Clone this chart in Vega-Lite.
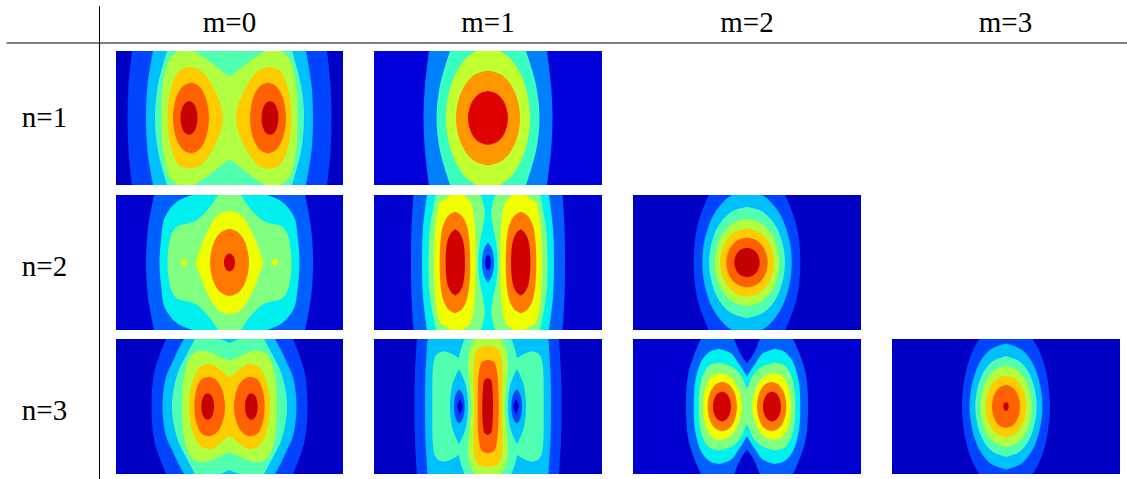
{"$schema":"https://vega.github.io/schema/vega-lite/v6.json","width":1127,"height":479,"padding":0,"autosize":{"type":"none"},"background":"white","view":{"stroke":null},
"layer":[
{"data":{"values":[
{"g":1,"c":"a0","y":[51,185],"a":[116,116],"b":[343,343]},
{"g":2,"c":"a1","y":[51,85,118,151,185],"a":[132,128.5,127.5,128.5,132],"b":[327,330.5,331.5,330.5,327]},
{"g":3,"c":"a2","y":[51,85,118,151,185],"a":[153,147.5,146,147.5,153],"b":[306,311.5,313,311.5,306]},
{"g":4,"c":"a3","y":[51,85,118,151,185],"a":[167,158,155,158,167],"b":[292,301,304,301,292]},
{"g":5,"c":"a4","y":[51,60,85,118,151,176,185],"a":[178,169,163,161.5,163,169,178],"b":[281,290,296,297.5,296,290,281]},
{"g":6,"c":"a3","y":[51,58,68,75,77],"a":[194,205,218,227,229.5],"b":[265,254,241,232,229.5]},
{"g":7,"c":"a3","y":[159,161,168,178,185],"a":[229.5,227,218,205,194],"b":[229.5,232,241,254,265]},
{"g":8,"c":"a5","y":[66.7,70,85,118,151,166,168.7],"a":[190,180,172,167.5,172,180,190],"b":[190,200,212,223,212,200,190]},
{"g":9,"c":"a5","y":[66.7,70,85,118,151,166,168.7],"a":[269,259,247,236,247,259,269],"b":[269,279,287,291.5,287,279,269]},
{"g":10,"c":"a6","y":[82.5,86,96.7,118,139.3,150,153.5],"a":[191,183.2,176.6,173,176.6,183.2,191],"b":[191,198.8,205.4,209,205.4,198.8,191]},
{"g":11,"c":"a6","y":[82.5,86,96.7,118,139.3,150,153.5],"a":[268,260.2,253.6,250,253.6,260.2,268],"b":[268,275.8,282.4,286,282.4,275.8,268]},
{"g":12,"c":"a7","y":[101,102.7,107.8,118,128.2,133.3,135],"a":[189,185.3,182.2,180.5,182.2,185.3,189],"b":[189,192.7,195.8,197.5,195.8,192.7,189]},
{"g":13,"c":"a7","y":[101,102.7,107.8,118,128.2,133.3,135],"a":[270,266.3,263.2,261.5,263.2,266.3,270],"b":[270,273.7,276.8,278.5,276.8,273.7,270]},
{"g":14,"c":"c0","y":[51,185],"a":[374,374],"b":[602,602]},
{"g":15,"c":"c1","y":[51,85,118,151,185],"a":[429,425,423.5,425,429],"b":[547,551,552.5,551,547]},
{"g":16,"c":"c2","y":[51,85,118,151,185],"a":[450,440,436.5,440,450],"b":[526,536,539.5,536,526]},
{"g":17,"c":"c3","y":[51,58,75,97,118,139,161,178,185],"a":[476,466.4,455,448,446,448,455,466.4,476],"b":[500,509.6,521,528,530,528,521,509.6,500]},
{"g":18,"c":"c4","y":[70.5,75.3,89.5,118,146.5,160.7,165.5],"a":[488,474,462.4,456,462.4,474,488],"b":[488,502,513.6,520,513.6,502,488]},
{"g":19,"c":"c5","y":[91,93.7,101.8,118,134.2,142.3,145],"a":[488,479.3,472,468,472,479.3,488],"b":[488,496.7,504,508,504,496.7,488]},
{"g":20,"c":"b0","y":[195,330],"a":[116,116],"b":[343,343]},
{"g":21,"c":"b1","y":[195,228,262.5,297,330],"a":[154,148,146,148,154],"b":[305,311,313,311,305]},
{"g":22,"c":"b2","y":[195,201.7,216.7,240,262.5,285,308.3,323.3,330],"a":[192,177,165,161,159.5,161,165,177,192],"b":[267,282,294,298,299.5,298,294,282,267]},
{"g":23,"c":"b3","y":[195,207,220,223.5,226,233,262.5,292,299,301.5,305,318,330],"a":[218,210,197,188,178,172,167.5,172,178,188,197,210,218],"b":[241,249,262,271,281,287,291.5,287,281,271,262,249,241]},
{"g":24,"c":"b4","y":[211,212.5,216.7,233.3,250,262.5,275,291.7,308.3,312.5,314],"a":[229.5,222.5,216.5,206.5,200,196,200,206.5,216.5,222.5,229.5],"b":[229.5,236.5,242.5,252.5,259,263,259,252.5,242.5,236.5,229.5]},
{"g":25,"c":"b4","y":[258.5,259.3,261,262.5,264,265.7,266.5],"a":[184.3,183,181.9,181.3,181.9,183,184.3],"b":[184.3,185.6,186.7,187.3,186.7,185.6,184.3]},
{"g":26,"c":"b4","y":[258.5,259.3,261,262.5,264,265.7,266.5],"a":[275,273.7,272.6,272,272.6,273.7,275],"b":[275,276.3,277.4,278,277.4,276.3,275]},
{"g":27,"c":"b5","y":[228.8,232.2,242.3,262.5,282.7,292.8,296.2],"a":[229.5,221,213.9,210,213.9,221,229.5],"b":[229.5,238,245.1,249,245.1,238,229.5]},
{"g":28,"c":"b6","y":[253.5,254.4,257.1,262.5,267.9,270.6,271.5],"a":[229.5,227.1,225.1,224,225.1,227.1,229.5],"b":[229.5,231.9,233.9,235,233.9,231.9,229.5]},
{"g":29,"c":"b0","y":[195,330],"a":[374,374],"b":[602,602]},
{"g":30,"c":"b1","y":[195,228,262.5,297,330],"a":[413.5,411.5,411,411.5,413.5],"b":[562.5,564.5,565,564.5,562.5]},
{"g":31,"c":"b2","y":[195,228,262.5,297,330],"a":[427,423,422,423,427],"b":[549,553,554,553,549]},
{"g":32,"c":"b3","y":[195,228,262.5,297,330],"a":[436,430,428.5,430,436],"b":[540,546,547.5,546,540]},
{"g":33,"c":"b2","y":[195,203.3,213.3,226.7,243.3,262.5,281.7,298.3,311.7,321.7,330],"a":[480.7,483.3,484.7,483,479.7,478.3,479.7,483,484.7,483.3,480.7],"b":[495.3,492.7,491.3,493,496.3,497.7,496.3,493,491.3,492.7,495.3]},
{"g":34,"c":"b1","y":[242.5,246,252,262.5,273,279,282.5],"a":[488,485.5,483.2,482,483.2,485.5,488],"b":[488,490.5,492.8,494,492.8,490.5,488]},
{"g":35,"c":"b0","y":[255,255.8,258,262.5,267,269.2,270],"a":[488,486.7,485.6,485,485.6,486.7,488],"b":[488,489.3,490.4,491,490.4,489.3,488]},
{"g":36,"c":"b4","y":[195,198,203,223,262.5,302,322,327,330],"a":[452,446,440,436,434,436,440,446,452],"b":[463,467,471,474.5,475.5,474.5,471,467,463]},
{"g":37,"c":"b4","y":[195,198,203,223,262.5,302,322,327,330],"a":[513,509,505,501.5,500.5,501.5,505,509,513],"b":[524,530,536,540,542,540,536,530,524]},
{"g":38,"c":"b5","y":[211.7,215,226,262.5,299,310,313.3],"a":[455,449,443,439.7,443,449,455],"b":[455,461,467,470.3,467,461,455]},
{"g":39,"c":"b5","y":[211.7,215,226,262.5,299,310,313.3],"a":[521,515,509,505.7,509,515,521],"b":[521,527,533,536.3,533,527,521]},
{"g":40,"c":"b6","y":[229.3,233,241,262.5,284,292,295.7],"a":[455.3,451,447.5,445.6,447.5,451,455.3],"b":[455.3,459.6,463.1,465,463.1,459.6,455.3]},
{"g":41,"c":"b6","y":[229.3,233,241,262.5,284,292,295.7],"a":[520.7,516.4,512.9,511,512.9,516.4,520.7],"b":[520.7,525,528.5,530.4,528.5,525,520.7]},
{"g":42,"c":"a0","y":[195,330],"a":[633,633],"b":[861,861]},
{"g":43,"c":"a1","y":[195,220,240,262.5,285,305,330],"a":[708.7,699,695,693.7,695,699,708.7],"b":[785.3,795,799,800.3,799,795,785.3]},
{"g":44,"c":"a2","y":[195,200,215,240,262.5,285,310,325,330],"a":[732,725.1,713.5,704.6,702.3,704.6,713.5,725.1,732],"b":[762,768.9,780.5,789.4,791.7,789.4,780.5,768.9,762]},
{"g":45,"c":"a3","y":[206.8,212.4,229.1,262.5,295.9,312.6,318.2],"a":[747,730.4,716.6,709,716.6,730.4,747],"b":[747,763.6,777.4,785,777.4,763.6,747]},
{"g":46,"c":"a4","y":[218.8,223.2,236.3,262.5,288.7,301.8,306.2],"a":[747,732.9,721.2,714.7,721.2,732.9,747],"b":[747,761.1,772.8,779.3,772.8,761.1,747]},
{"g":47,"c":"a5","y":[228.3,231.7,242,262.5,283,293.3,296.7],"a":[747,735.2,725.4,720,725.4,735.2,747],"b":[747,758.8,768.6,774,768.6,758.8,747]},
{"g":48,"c":"a6","y":[237.5,240,247.5,262.5,277.5,285,287.5],"a":[747,738,730.4,726.3,730.4,738,747],"b":[747,756,763.6,767.7,763.6,756,747]},
{"g":49,"c":"a7","y":[247.7,249.2,253.6,262.5,271.4,275.8,277.3],"a":[747,741.5,736.8,734.3,736.8,741.5,747],"b":[747,752.5,757.2,759.7,757.2,752.5,747]},
{"g":50,"c":"a0","y":[339,474],"a":[116,116],"b":[343,343]},
{"g":51,"c":"a1","y":[339,354,374,406.5,439,459,474],"a":[166,160,154,151.5,154,160,166],"b":[293,299,305,307.5,305,299,293]},
{"g":52,"c":"a2","y":[339,350,361,377,406.5,436,452,463,474],"a":[184,178,173,166,162.5,166,173,178,184],"b":[275,281,286,293,296.5,293,286,281,275]},
{"g":53,"c":"a3","y":[339,354,371,390,406.5,423,442,459,474],"a":[195,187,178.5,173.5,172,173.5,178.5,187,195],"b":[264,272,280.5,285.5,287,285.5,280.5,272,264]},
{"g":54,"c":"a2","y":[339,341,343],"a":[220,225,229.5],"b":[239,234,229.5]},
{"g":55,"c":"a2","y":[470,472,474],"a":[229.5,225,220],"b":[229.5,234,239]},
{"g":56,"c":"a4","y":[350.7,352.5,357,371,390,406.5,423,442,456,460.5,462.3],"a":[200,195,190,185,182.5,182,182.5,185,190,195,200],"b":[259,264,269,274,276.5,277,276.5,274,269,264,259]},
{"g":57,"c":"a3","y":[350.7,354,358,360.7],"a":[205,214,223,229.5],"b":[254,245,236,229.5]},
{"g":58,"c":"a3","y":[452.3,455,459,462.3],"a":[229.5,223,214,205],"b":[229.5,236,245,254]},
{"g":59,"c":"a5","y":[364,366,371,380,392,406.5,421,433,442,447,449],"a":[208,201.5,197,193,190,189,190,193,197,201.5,208],"b":[251,257.5,262,266,269,270,269,266,262,257.5,251]},
{"g":60,"c":"a4","y":[364,368,373,378],"a":[212,218,224,229.5],"b":[247,241,235,229.5]},
{"g":61,"c":"a4","y":[435,440,445,449],"a":[229.5,224,218,212],"b":[229.5,235,241,247]},
{"g":62,"c":"a6","y":[376.7,379,388,406.5,425,434,436.3],"a":[209,202,197,194.3,197,202,209],"b":[209,215,221.5,225,221.5,215,209]},
{"g":63,"c":"a6","y":[376.7,379,388,406.5,425,434,436.3],"a":[250,244,237.5,234,237.5,244,250],"b":[250,257,262,264.7,262,257,250]},
{"g":64,"c":"a7","y":[393.2,394.5,398.5,406.5,414.5,418.5,419.8],"a":[207.7,204.9,202.6,201.3,202.6,204.9,207.7],"b":[207.7,210.5,212.8,214.1,212.8,210.5,207.7]},
{"g":65,"c":"a7","y":[393.2,394.5,398.5,406.5,414.5,418.5,419.8],"a":[251.3,248.5,246.2,244.9,246.2,248.5,251.3],"b":[251.3,254.1,256.4,257.7,256.4,254.1,251.3]},
{"g":66,"c":"a0","y":[339,474],"a":[374,374],"b":[602,602]},
{"g":67,"c":"a1","y":[339,373,406.5,440,474],"a":[417,415,414.5,415,417],"b":[559,561,561.5,561,559]},
{"g":68,"c":"a2","y":[339,373,406.5,440,474],"a":[427.5,425.5,425,425.5,427.5],"b":[548.5,550.5,551,550.5,548.5]},
{"g":69,"c":"a3","y":[351.3,353.3,358,367,406.5,446,455,459.7,461.7],"a":[444.7,438,434.7,433,432.3,433,434.7,438,444.7],"b":[444.7,450.7,458.7,470,475,470,458.7,450.7,444.7]},
{"g":70,"c":"a3","y":[351.3,353.3,358,367,406.5,446,455,459.7,461.7],"a":[531.3,525.3,517.3,506,501,506,517.3,525.3,531.3],"b":[531.3,538,541.3,543,543.7,543,541.3,538,531.3]},
{"g":71,"c":"a3","y":[339,358,380,406.5,433,455,474],"a":[464.7,459,462,466,462,459,464.7],"b":[511.3,517,514,510,514,517,511.3]},
{"g":72,"c":"a2","y":[369,375,386,406.5,427,438,444],"a":[459,456,452,450,452,456,459],"b":[459,462,466,468,466,462,459]},
{"g":73,"c":"a2","y":[369,375,386,406.5,427,438,444],"a":[517,514,510,508,510,514,517],"b":[517,520,524,526,524,520,517]},
{"g":74,"c":"a1","y":[389.5,391.5,396,406.5,417,421.5,423.5],"a":[459.3,457.3,455.3,453.9,455.3,457.3,459.3],"b":[459.3,461.3,463.3,464.7,463.3,461.3,459.3]},
{"g":75,"c":"a1","y":[389.5,391.5,396,406.5,417,421.5,423.5],"a":[516.7,514.7,512.7,511.3,512.7,514.7,516.7],"b":[516.7,518.7,520.7,522.1,520.7,518.7,516.7]},
{"g":76,"c":"a0","y":[398.5,401,404,406.5,409,412,414.5],"a":[460,459,458,457.3,458,459,460],"b":[460,461,462,462.7,462,461,460]},
{"g":77,"c":"a0","y":[398.5,401,404,406.5,409,412,414.5],"a":[516,515,514,513.3,514,515,516],"b":[516,517,518,518.7,518,517,516]},
{"g":78,"c":"a4","y":[339,350,367,385,406.5,428,446,463,474],"a":[475,469.5,468,469.5,471,469.5,468,469.5,475],"b":[501,506.5,508,506.5,505,506.5,508,506.5,501]},
{"g":79,"c":"a5","y":[346,348,355,370,406.5,443,458,465,467],"a":[488,479,475,473.5,474,473.5,475,479,488],"b":[488,497,501,502.5,502,502.5,501,497,488]},
{"g":80,"c":"a6","y":[359.7,362,372,406.5,441,451,453.3],"a":[488,482,479,477.7,479,482,488],"b":[488,494,497,498.7,497,494,488]},
{"g":81,"c":"a7","y":[378,380,390,406.5,423,433,435],"a":[487.7,484.5,482.8,482.3,482.8,484.5,487.7],"b":[487.7,491,492.5,493,492.5,491,487.7]},
{"g":82,"c":"b0","y":[339,474],"a":[633,633],"b":[861,861]},
{"g":83,"c":"b1","y":[339,355,375,406.5,438,458,474],"a":[701,694,688,686,688,694,701],"b":[793,800,806,808,806,800,793]},
{"g":86,"c":"b2","y":[349,351,360,380,406.5,433,453,462,464],"a":[720,711,702,695.5,693.7,695.5,702,711,720],"b":[774,783,792,798.5,800.3,798.5,792,783,774]},
{"g":89,"c":"b3","y":[362.7,365,375,390,406.5,423,438,448,450.3],"a":[719,710,703,699.5,698.7,699.5,703,710,719],"b":[775,784,791,794.5,795.3,794.5,791,784,775]},
{"g":90,"c":"b2","y":[362.7,365.7,370.7,377.3,385.7,389],"a":[719,730,737,742,745.3,747],"b":[775,764,757,752,748.7,747]},
{"g":91,"c":"b2","y":[424,427.3,435.7,442.3,447.3,450.3],"a":[747,745.3,742,737,730,719],"b":[747,748.7,752,757,764,775]},
{"g":87,"c":"b1","y":[349,351,354,361,370,376.7],"a":[720,726,732,737,743,747],"b":[774,768,762,757,751,747]},
{"g":88,"c":"b1","y":[436.3,443,452,459,462,464],"a":[747,743,737,732,726,720],"b":[747,751,757,762,768,774]},
{"g":84,"c":"b0","y":[339,345,352,358,363.3],"a":[734.3,736.5,739.5,743,747],"b":[759.7,757.5,754.5,751,747]},
{"g":85,"c":"b0","y":[449.7,455,461,468,474],"a":[747,743,739.5,736.5,734.3],"b":[747,751,754.5,757.5,759.7]},
{"g":92,"c":"b4","y":[373.3,376,386,406.5,427,437,440],"a":[720,712,706,703,706,712,720],"b":[720,729,737,742,737,729,720]},
{"g":93,"c":"b4","y":[373.3,376,386,406.5,427,437,440],"a":[774,765,757,752,757,765,774],"b":[774,782,788,791,788,782,774]},
{"g":94,"c":"b5","y":[381.7,384.2,391.6,406.5,421.4,428.8,431.3],"a":[722.3,715.9,710.5,707.6,710.5,715.9,722.3],"b":[722.3,728.7,734.1,737,734.1,728.7,722.3]},
{"g":95,"c":"b5","y":[381.7,384.2,391.6,406.5,421.4,428.8,431.3],"a":[771.7,765.3,759.9,757,759.9,765.3,771.7],"b":[771.7,778.1,783.5,786.4,783.5,778.1,771.7]},
{"g":96,"c":"b6","y":[391.5,393,397.5,406.5,415.5,420,421.5],"a":[722,718.1,714.8,713,714.8,718.1,722],"b":[722,725.9,729.2,731,729.2,725.9,722]},
{"g":97,"c":"b6","y":[391.5,393,397.5,406.5,415.5,420,421.5],"a":[772,768.1,764.8,763,764.8,768.1,772],"b":[772,775.9,779.2,781,779.2,775.9,772]},
{"g":98,"c":"a0","y":[339,474],"a":[892,892],"b":[1120,1120]},
{"g":99,"c":"a1","y":[339,350,370,406.5,443,463,474],"a":[979.3,973.1,966.3,962,966.3,973.1,979.3],"b":[1032.7,1038.9,1045.7,1050,1045.7,1038.9,1032.7]},
{"g":100,"c":"a2","y":[343.5,349.8,368.7,406.5,444.3,463.2,469.5],"a":[1006,990.1,976.8,969.5,976.8,990.1,1006],"b":[1006,1021.9,1035.2,1042.5,1035.2,1021.9,1006]},
{"g":101,"c":"a3","y":[356.2,361.2,376.3,406.5,436.7,451.8,456.8],"a":[1006,992.6,981.4,975.3,981.4,992.6,1006],"b":[1006,1019.4,1030.6,1036.7,1030.6,1019.4,1006]},
{"g":102,"c":"a4","y":[365.8,369.9,382.1,406.5,430.9,443.1,447.2],"a":[1006,994.8,985.4,980.3,985.4,994.8,1006],"b":[1006,1017.2,1026.6,1031.7,1026.6,1017.2,1006]},
{"g":103,"c":"a5","y":[375.5,378.6,387.9,406.5,425.1,434.4,437.5],"a":[1006,997.2,989.8,985.8,989.8,997.2,1006],"b":[1006,1014.8,1022.2,1026.2,1022.2,1014.8,1006]},
{"g":104,"c":"a6","y":[385,387.2,393.6,406.5,419.4,425.8,428],"a":[1006,999.9,994.8,992,994.8,999.9,1006],"b":[1006,1012.1,1017.2,1020,1017.2,1012.1,1006]},
{"g":105,"c":"a7","y":[402.2,402.6,403.9,406.5,409.1,410.4,410.8],"a":[1006,1004.8,1003.8,1003.2,1003.8,1004.8,1006],"b":[1006,1007.2,1008.2,1008.8,1008.2,1007.2,1006]}
]},
"transform":[{"flatten":["y","a","b"]}],
"mark":{"type":"area","orient":"horizontal","interpolate":"catmull-rom"},
"encoding":{
"y":{"field":"y","type":"quantitative","scale":{"domain":[0,479],"reverse":true,"nice":false,"zero":false},"axis":null},
"x":{"field":"a","type":"quantitative","scale":{"domain":[0,1127],"nice":false,"zero":false},"axis":null},
"x2":{"field":"b"},
"detail":{"field":"g"},
"color":{"field":"c","type":"nominal","legend":null,"scale":{
"domain":["a0","a1","a2","a3","a4","a5","a6","a7","b0","b1","b2","b3","b4","b5","b6","c0","c1","c2","c3","c4","c5"],
"range":["#0000c4","#0044ff","#00c0ff","#50ffb0","#b0ff40","#ffcc00","#ff6000","#c40000","#0000d0","#0060ff","#00f0f0","#80ff80","#f0ff00","#ff7800","#d00000","#0000dc","#0080ff","#38ffc0","#c0ff30","#ff9800","#e00000"]}}
}},
{"data":{"values":[{"x":99.5,"y":6,"y2":479}]},"mark":{"type":"rule","color":"#000","strokeWidth":1},"encoding":{"x":{"field":"x","type":"quantitative"},"y":{"field":"y","type":"quantitative"},"y2":{"field":"y2"}}},
{"data":{"values":[{"x":6.5,"x2":1127,"y":43}]},"mark":{"type":"rule","color":"#000","strokeWidth":1},"encoding":{"x":{"field":"x","type":"quantitative"},"x2":{"field":"x2"},"y":{"field":"y","type":"quantitative"}}},
{"data":{"values":[{"t":"m=0","x":229.5,"y":32},{"t":"m=1","x":488,"y":32},{"t":"m=2","x":747,"y":32},{"t":"m=3","x":1005.5,"y":32},{"t":"n=1","x":44.5,"y":126.5},{"t":"n=2","x":44.5,"y":276},{"t":"n=3","x":44.5,"y":420}]},
"mark":{"type":"text","font":"Liberation Serif","fontSize":29,"baseline":"alphabetic","align":"center","color":"#000"},
"encoding":{"x":{"field":"x","type":"quantitative"},"y":{"field":"y","type":"quantitative"},"text":{"field":"t"}}}
]}
